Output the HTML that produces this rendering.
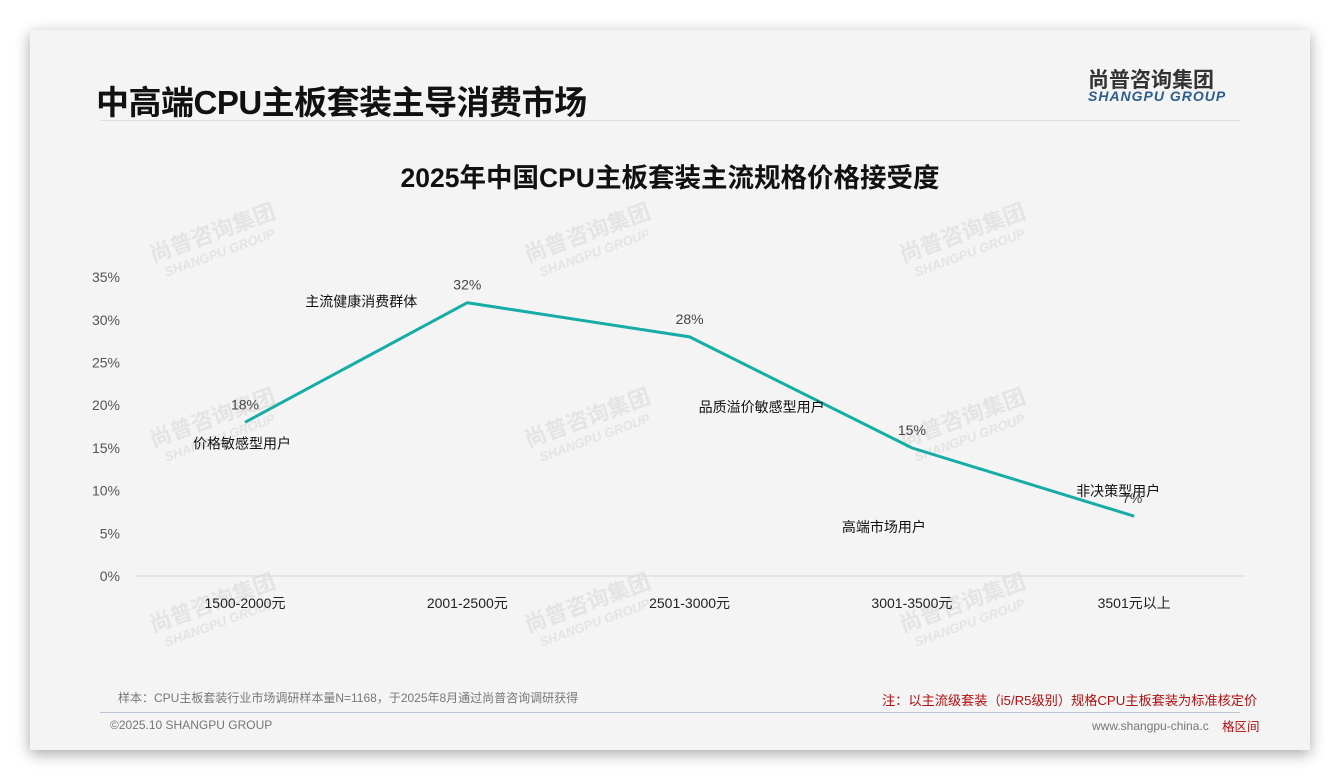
<!DOCTYPE html>
<html><head><meta charset="utf-8">
<style>
body{margin:0;width:1340px;height:780px;background:#fff;font-family:"Liberation Sans","Noto Sans CJK SC",sans-serif;overflow:hidden}
#card{position:absolute;left:30px;top:30px;width:1280px;height:720px;background:#f4f4f4;box-shadow:0 4px 14px rgba(0,0,0,0.35)}
.t{position:absolute;white-space:nowrap}
</style></head><body>
<div id="card">
<div class="t" style="left:66px;top:46px;font-size:33px;font-weight:bold;color:#111;letter-spacing:-0.5px">中高端CPU主板套装主导消费市场</div>
<div class="t" style="left:1058px;top:34px;font-size:21px;font-weight:bold;color:#333">尚普咨询集团</div>
<div class="t" style="left:1058px;top:58px;font-size:14px;font-style:italic;font-weight:bold;color:#2d5d8a;letter-spacing:1px">SHANGPU GROUP</div>
<div style="position:absolute;left:70px;top:90px;width:1140px;height:1px;background:#ddd"></div>
<div class="t" style="left:88px;top:659px;font-size:12px;color:#777">样本：CPU主板套装行业市场调研样本量N=1168，于2025年8月通过尚普咨询调研获得</div>
<div class="t" style="left:852px;top:660px;font-size:13.2px;color:#b01010">注：以主流级套装（i5/R5级别）规格CPU主板套装为标准核定价</div>
<div style="position:absolute;left:70px;top:682px;width:1140px;height:1px;background:#b8c4d0"></div>
<div class="t" style="left:80px;top:688px;font-size:12px;color:#777">©2025.10 SHANGPU GROUP</div>
<div class="t" style="left:1062px;top:689px;font-size:12px;color:#777">www.shangpu-china.c</div>
<div class="t" style="left:1192px;top:686px;font-size:12.5px;color:#b01010">格区间</div>
</div>
<svg id="chart" width="1340" height="780" style="position:absolute;left:0;top:0">
<text x="670" y="187" text-anchor="middle" font-size="26.5" font-weight="bold" fill="#111">2025年中国CPU主板套装主流规格价格接受度</text>
<g id="wm" fill="#ccc" opacity="0.4" font-weight="bold"></g>
<g id="axes"></g><g id="marks"></g>
</svg>
<script>
const categories=["1500-2000元","2001-2500元","2501-3000元","3001-3500元","3501元以上"];
const values=[18,32,28,15,7];
const yTicks=[0,5,10,15,20,25,30,35];
const segLabels=["价格敏感型用户","主流健康消费群体","品质溢价敏感型用户","高端市场用户","非决策型用户"];
const ns="http://www.w3.org/2000/svg";
const svg=document.getElementById('chart');
const X=i=>245+i*222.3;
const Y=v=>576-v*8.54;
function mk(tag,attrs,parent,txt){const e=document.createElementNS(ns,tag);for(const k in attrs)e.setAttribute(k,attrs[k]);if(txt!==undefined)e.textContent=txt;parent.appendChild(e);return e;}
const axes=document.getElementById('axes'),marks=document.getElementById('marks'),wm=document.getElementById('wm');
[[215,240],[590,240],[965,240],[215,425],[590,425],[965,425],[215,610],[590,610],[965,610]].forEach(p=>{
 const g=mk('g',{transform:`translate(${p[0]},${p[1]}) rotate(-20)`},wm);
 
 
 mk('text',{'text-anchor':'middle','font-size':22},g,'尚普咨询集团');
 mk('text',{'text-anchor':'middle','font-size':13,y:18,'font-style':'italic'},g,'SHANGPU GROUP');
});
const base=mk('line',{x1:135,x2:1245,y1:Y(0),y2:Y(0),stroke:'#d9d9d9'},axes);


yTicks.forEach(t=>{const e=mk('text',{x:120,y:Y(t)+5,'text-anchor':'end','font-size':14,fill:'#555'},axes,t+'%');
 
 });
categories.forEach((c,i)=>{const e=mk('text',{x:X(i),y:608,'text-anchor':'middle','font-size':14,fill:'#222'},axes,c);
 
 });
const line=mk('polyline',{points:values.map((v,i)=>X(i)+','+Y(v)).join(' '),fill:'none',stroke:'#17ada6','stroke-width':3},marks);


values.forEach((v,i)=>{const e=mk('text',{x:X(i)+(i==4?-2:0),y:Y(v)-13,'text-anchor':'middle','font-size':14,fill:'#444'},marks,v+'%');
 
 });
const segOff=[[-3,26],[-106,4],[72,75],[-28,84],[-16,-20]];
segLabels.forEach((s,i)=>{const e=mk('text',{x:X(i)+segOff[i][0],y:Y(values[i])+segOff[i][1],'text-anchor':'middle','font-size':14,fill:'#111'},marks,s);
 
 });
</script>
</body></html>
